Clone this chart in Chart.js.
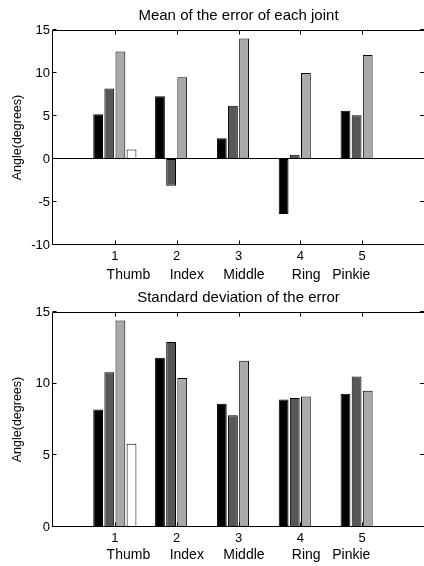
<!DOCTYPE html>
<html>
<head>
<meta charset="utf-8">
<script src="https://cdn.jsdelivr.net/npm/chart.js@4/dist/chart.umd.min.js"></script>
<style>
  html, body { margin: 0; padding: 0; background: #fff; overflow: hidden; width: 424px; height: 566px; }
  canvas { position: absolute; left: 0; }
  #graficoMedia { top: 0; }
  #graficoDesv { top: 282px; }
</style>
</head>
<body>
<canvas id="graficoMedia" width="428" height="282"></canvas>
<canvas id="graficoDesv" width="428" height="284"></canvas>
<script>
// categorias del eje x (0 y 6 quedan vacios, como en matlab)
const categorias = ['', '1', '2', '3', '4', '5', ''];
const dedos = 'Thumb     Index     Middle       Ring   Pinkie';

// media del error
const media_s1 = [5.2, 7.3, 2.4, -6.4, 5.6];
const media_s2 = [8.2, -3.1, 6.2, 0.5, 5.1];
const media_s3 = [12.5, 9.5, 14.0, 10.0, 12.1];
const media_s4 = [1.1, 0, 0, 0, 0];

// desviacion estandar
const desv_s1 = [8.2, 11.8, 8.6, 8.9, 9.3];
const desv_s2 = [10.8, 12.9, 7.8, 9.0, 10.5];
const desv_s3 = [14.4, 10.4, 11.6, 9.1, 9.5];
const desv_s4 = [5.8, 0, 0, 0, 0];

const ticksMedia = [-10, -5, 0, 5, 10, 15];
const ticksDesv = [0, 5, 10, 15];

const colores = ['#000000', '#575757', '#a9a9a9', '#ffffff'];
const fuente = "'Liberation Sans', Arial, sans-serif";

const marcoMatlab = {
  id: 'marcoMatlab',
  afterDatasetsDraw(chart) {
    const { ctx, chartArea: a, scales: { x, y } } = chart;
    const L = Math.round(a.left) - 0.5,
      T = Math.round(a.top) + 0.5,
      B = Math.round(a.bottom) - 0.5,
      R = a.right;
    ctx.save();
    ctx.strokeStyle = '#000';
    ctx.lineWidth = 1;
    ctx.beginPath();
    ctx.moveTo(R, T);
    ctx.lineTo(L, T);
    ctx.lineTo(L, B);
    ctx.lineTo(R, B);
    let y0 = Math.round(y.getPixelForValue(0)) - 0.5;
    ctx.moveTo(L, y0);
    ctx.lineTo(R, y0);
    x.ticks.forEach((t, i) => {
      if (!categorias[i]) return;
      let px = Math.round(x.getPixelForTick(i)) + 0.5;
      ctx.moveTo(px, B);
      ctx.lineTo(px, B - 4);
      ctx.moveTo(px, T);
      ctx.lineTo(px, T + 4);
    });
    y.ticks.forEach((t, i) => {
      let py = Math.round(y.getPixelForTick(i)) - 0.5;
      ctx.moveTo(L, py);
      ctx.lineTo(L + 4, py);
      ctx.moveTo(R, py);
      ctx.lineTo(R - 4, py);
    });
    ctx.stroke();
    ctx.restore();
  },
};

const crearGrafico = function (id, titulo, series, ticksY, padAbajo, padTitulo) {
  let datasets = series.map((s, i) => ({
    data: [null, ...s, null],
    backgroundColor: colores[i],
    borderColor: '#000',
    borderWidth: 1,
    borderSkipped: false,
    categoryPercentage: 0.72,
    barPercentage: 0.88,
  }));
  return new Chart(document.getElementById(id).getContext('2d'), {
    type: 'bar',
    data: { labels: categorias, datasets: datasets },
    plugins: [marcoMatlab],
    options: {
      responsive: false,
      animation: false,
      devicePixelRatio: 1,
      layout: { padding: { left: 0, right: 2, top: 0, bottom: padAbajo } },
      plugins: {
        legend: { display: false },
        tooltip: { enabled: false },
        title: {
          display: true,
          text: titulo,
          fullSize: false,
          color: '#000',
          font: { family: fuente, size: 15, weight: 'normal' },
          padding: { top: 7, bottom: 5 },
        },
      },
      scales: {
        x: {
          type: 'category',
          offset: false,
          grid: { display: false, drawTicks: false },
          border: { display: false },
          ticks: {
            autoSkip: false,
            maxRotation: 0,
            color: '#000',
            padding: 4,
            font: { family: fuente, size: 13 },
          },
          title: {
            display: true,
            text: dedos,
            color: '#000',
            font: { family: fuente, size: 14 },
            padding: { top: 0, bottom: padTitulo },
          },
          afterFit: (s) => {
            s.height = 37;
          },
        },
        y: {
          min: ticksY[0],
          max: ticksY[ticksY.length - 1],
          afterBuildTicks: (s) => {
            s.ticks = ticksY.map((v) => ({ value: v }));
          },
          grid: { display: false, drawTicks: false },
          border: { display: false },
          ticks: {
            color: '#000',
            padding: 3,
            font: { family: fuente, size: 13 },
          },
          title: {
            display: true,
            text: 'Angle(degrees)',
            color: '#000',
            font: { family: fuente, size: 12.5 },
            padding: { top: 10, bottom: 0 },
          },
          afterFit: (s) => {
            s.width = 53;
          },
        },
      },
    },
  });
};

crearGrafico('graficoMedia', 'Mean of the error of each joint',
  [media_s1, media_s2, media_s3, media_s4], ticksMedia, 0, -2);
crearGrafico('graficoDesv', 'Standard deviation of the error',
  [desv_s1, desv_s2, desv_s3, desv_s4], ticksDesv, 2, 0);
</script>
</body>
</html>
